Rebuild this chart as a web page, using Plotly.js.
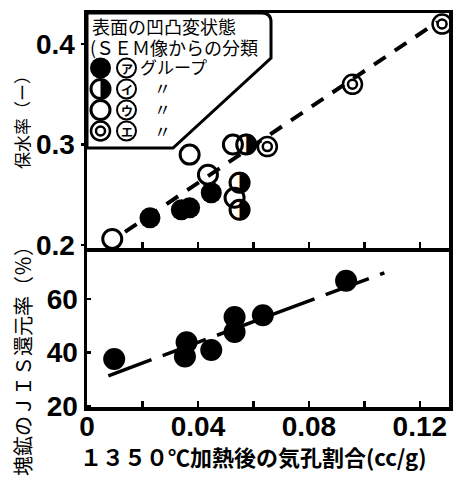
<!DOCTYPE html>
<html>
<head>
<meta charset="utf-8">
<script src="https://cdn.plot.ly/plotly-3.0.1.min.js"></script>
<style>html,body{margin:0;padding:0;background:#fff;}#chart{width:463px;height:489px;}</style>
</head>
<body>
<div id="chart"></div>
<script>
// ---- data ----
const xTickVals = [0, 0.02, 0.04, 0.06, 0.08, 0.10, 0.12];
const xTickText = ['0', '', '0.04', '', '0.08', '', '0.12'];
const topTickVals = [0.2, 0.3, 0.4];
const topTickText = ['0.2', '0.3', '0.4'];
const botTickVals = [20, 40, 60];
const botTickText = ['20', '40', '60'];

// upper panel: water retention ratio by surface group
const groupA_x = [0.0227, 0.034, 0.037, 0.0448];
const groupA_y = [0.227, 0.235, 0.237, 0.252];
const groupB_x = [0.0574, 0.055, 0.055];
const groupB_y = [0.300, 0.262, 0.235];
const groupC_x = [0.0091, 0.037, 0.0436, 0.0526, 0.0532];
const groupC_y = [0.206, 0.290, 0.270, 0.300, 0.247];
const groupD_x = [0.065, 0.0957, 0.128];
const groupD_y = [0.298, 0.360, 0.420];
const topFit_x = [0.0137, 0.1263];
const topFit_y = [0.213, 0.422];

// lower panel: JIS reducibility of lump ore
const bot_x = [0.0098, 0.0353, 0.0359, 0.0448, 0.0532, 0.0532, 0.0634, 0.0934];
const bot_y = [37.6, 38.5, 43.9, 41.0, 47.7, 53.3, 54.0, 66.9];
const botFit_x = [0.0077, 0.1072];
const botFit_y = [31.3, 69.9];

// legend labels
const groupLetters = ['ア', 'イ', 'ウ', 'エ'];
const groupSuffix = ['グループ', '〃', '〃', '〃'];

// ---- layout helpers (pixel -> paper) ----
const L = 87, R = 449, T = 13, B = 407;
const W = R - L, H = B - T;
const px = p => (p - L) / W;
const py = p => (B - p) / H;

const black = '#000';
const tickFont = {family: 'Liberation Sans Narrow, Liberation Sans, Arial, sans-serif', size: 28, color: black, weight: 'bold'};
const jp = 'Noto Sans CJK JP, sans-serif';

const traces = [
  {x: topFit_x, y: topFit_y, xaxis: 'x2', yaxis: 'y2', mode: 'lines',
   line: {color: black, width: 4, dash: '14px,11px'}, hoverinfo: 'skip'},
  {x: groupA_x, y: groupA_y, xaxis: 'x2', yaxis: 'y2', mode: 'markers', cliponaxis: false,
   marker: {symbol: 'circle', size: 21, color: black, line: {width: 0}}},
  {x: groupB_x, y: groupB_y, xaxis: 'x2', yaxis: 'y2', mode: 'markers+text', cliponaxis: false,
   text: groupB_x.map(() => '◑'), textposition: 'middle center',
   textfont: {family: 'DejaVu Sans', size: 27, color: black},
   marker: {symbol: 'circle-open', size: 19, color: black, line: {width: 3, color: black}}},
  {x: groupC_x, y: groupC_y, xaxis: 'x2', yaxis: 'y2', mode: 'markers', cliponaxis: false,
   marker: {symbol: 'circle-open', size: 19, color: black, line: {width: 3, color: black}}},
  {x: groupD_x, y: groupD_y, xaxis: 'x2', yaxis: 'y2', mode: 'markers', cliponaxis: false,
   marker: {symbol: 'circle-open', size: 19, color: black, line: {width: 2.5, color: black}}},
  {x: groupD_x, y: groupD_y, xaxis: 'x2', yaxis: 'y2', mode: 'markers', cliponaxis: false,
   marker: {symbol: 'circle-open', size: 9, color: black, line: {width: 2.5, color: black}}},
  {x: botFit_x, y: botFit_y, xaxis: 'x', yaxis: 'y', mode: 'lines',
   line: {color: black, width: 3.5, dash: '46px,12px'}, hoverinfo: 'skip'},
  {x: bot_x, y: bot_y, xaxis: 'x', yaxis: 'y', mode: 'markers', cliponaxis: false,
   marker: {symbol: 'circle', size: 22, color: black, line: {width: 0}}}
];

// legend box and symbols
function circlePath(cx, cy, r, from, to, n) {
  let s = '';
  for (let i = 0; i <= n; i++) {
    const a = from + (to - from) * i / n;
    const X = px(cx + r * Math.cos(a)), Y = py(cy - r * Math.sin(a));
    s += (i === 0 ? 'M ' : ' L ') + X + ',' + Y;
  }
  return s + ' Z';
}
function circ(cx, cy, r, fill, lw) {
  return {type: 'circle', xref: 'paper', yref: 'paper', layer: 'above',
    x0: px(cx - r), x1: px(cx + r), y0: py(cy + r), y1: py(cy - r),
    fillcolor: fill, line: {color: black, width: lw}};
}
const rowY = [68, 89, 110, 131];
const shapes = [
  {type: 'path', xref: 'paper', yref: 'paper', layer: 'above',
   path: `M ${px(87)},${py(13)} L ${px(262)},${py(13)} Q ${px(271)},${py(13)} ${px(271)},${py(22)} L ${px(271)},${py(58)} L ${px(173)},${py(148)} L ${px(87)},${py(148)} Z`,
   fillcolor: '#fff', line: {color: black, width: 3}},
  circ(100.5, rowY[0], 10.5, black, 0),
  circ(100.5, rowY[1], 9.5, '#fff', 3),
  {type: 'path', xref: 'paper', yref: 'paper', layer: 'above', path: circlePath(100.5, rowY[1], 9.5, -Math.PI / 2, Math.PI / 2, 24), fillcolor: black, line: {width: 0}},
  circ(100.5, rowY[2], 9.5, '#fff', 3),
  circ(100.5, rowY[3], 9.5, '#fff', 2.5),
  circ(100.5, rowY[3], 4.5, '#fff', 2.5)
];
rowY.forEach(y => shapes.push(circ(126.5, y, 9.5, 'rgba(0,0,0,0)', 2)));

function ann(text, x, y, size, opts) {
  return Object.assign({text: text, xref: 'paper', yref: 'paper', x: px(x), y: py(y),
    showarrow: false, font: {family: jp, size: size, color: black}, xanchor: 'left', yanchor: 'middle'}, opts || {});
}
const annotations = [
  ann('表面の凹凸変状態', 90, 26, 18),
  ann('(ＳＥＭ像からの分類', 88, 47, 18),
  ann('保水率（ー）', 22, 118, 17, {xanchor: 'center', textangle: -90}),
  ann('塊鉱のＪＩＳ還元率（％）', 22, 356, 20, {xanchor: 'center', textangle: -90}),
  ann('１３５０℃加熱後の気孔割合(cc/g)', 253, 456, 22, {xanchor: 'center', font: {family: jp, size: 22, color: black, weight: 'bold'}})
];
groupLetters.forEach((t, i) => annotations.push(ann(t, 126.5, rowY[i], 12, {xanchor: 'center', font: {family: jp, size: 12, color: black, weight: 'bold'}})));
groupSuffix.forEach((t, i) => annotations.push(ann(t, i === 0 ? 138 : 152, rowY[i] - 1, 17)));

const axisCommon = {showline: true, mirror: true, linecolor: black, linewidth: 3.5,
  showgrid: false, zeroline: false, tickcolor: black, tickfont: tickFont};

const layout = {
  width: 463, height: 489,
  margin: {l: L, r: 463 - R, t: T, b: 489 - B},
  paper_bgcolor: '#fff', plot_bgcolor: '#fff',
  showlegend: false,
  xaxis: Object.assign({}, axisCommon, {domain: [0, 1], range: [0, 0.1305], anchor: 'y',
    tickmode: 'array', tickvals: xTickVals, ticktext: xTickText, ticks: 'inside', ticklen: 6, tickwidth: 2.5,
    ticklabelstandoff: -8}),
  yaxis: Object.assign({}, axisCommon, {domain: [0, py(252)], range: [19.6, 77.7], anchor: 'x',
    tickmode: 'array', tickvals: botTickVals, ticktext: botTickText, ticks: 'inside', ticklen: 4, tickwidth: 2.5}),
  xaxis2: Object.assign({}, axisCommon, {domain: [0, 1], range: [0, 0.1305], anchor: 'y2', matches: 'x',
    tickmode: 'array', tickvals: xTickVals, showticklabels: false, ticks: 'inside', ticklen: 6, tickwidth: 2.5}),
  yaxis2: Object.assign({}, axisCommon, {domain: [py(248), 1], range: [0.197, 0.431], anchor: 'x2',
    tickmode: 'array', tickvals: topTickVals, ticktext: topTickText, ticks: 'outside', ticklen: 3, tickwidth: 2.5}),
  shapes: shapes,
  annotations: annotations
};

Plotly.newPlot('chart', traces, layout, {displayModeBar: false, staticPlot: true});
</script>
</body>
</html>
